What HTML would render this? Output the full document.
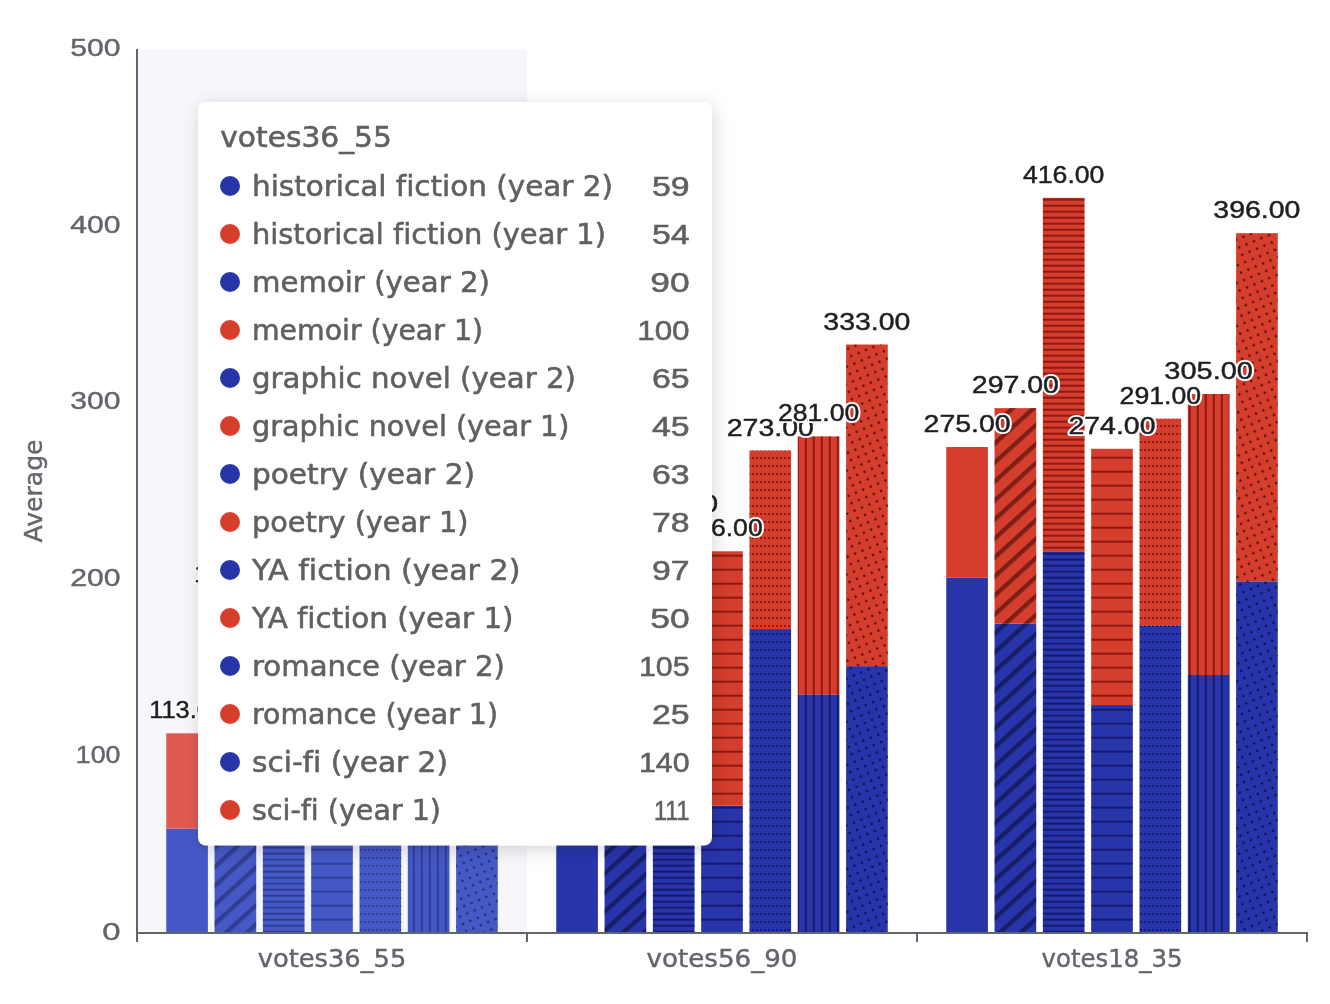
<!DOCTYPE html>
<html lang="en"><head><meta charset="utf-8"><title>Average votes by genre</title>
<style>html,body{margin:0;padding:0;background:#fff}body{width:1330px;height:1004px;overflow:hidden}svg{display:block}text{font-family:"DejaVu Sans","Liberation Sans",sans-serif;font-variant-ligatures:none;font-feature-settings:"liga" 0,"clig" 0,"rlig" 0,"calt" 0}.n,.n text{font-family:"Liberation Sans","DejaVu Sans",sans-serif}</style>
</head><body>
<svg width="1330" height="1004" viewBox="0 0 1330 1004">
<defs>
<pattern id="p1r" patternUnits="userSpaceOnUse" x="10.74" width="14.059" height="14" patternTransform="rotate(47.76)"><rect x="0" y="0" width="4.30" height="14" fill="rgba(40,0,0,0.5)"/></pattern>
<pattern id="p2r" patternUnits="userSpaceOnUse" width="6" height="6"><rect x="0" y="0.7" width="6" height="2" fill="rgba(100,0,0,0.62)"/></pattern>
<pattern id="p3r" patternUnits="userSpaceOnUse" width="14" height="14"><rect x="0" y="8.7" width="14" height="2" fill="rgba(100,0,0,0.62)"/></pattern>
<pattern id="p4r" patternUnits="userSpaceOnUse" width="4" height="8"><rect x="0" y="1" width="2" height="2" fill="rgba(100,0,0,0.62)"/></pattern>
<pattern id="p5r" patternUnits="userSpaceOnUse" width="8" height="8"><rect x="4.8" y="0" width="2" height="8" fill="rgba(100,0,0,0.62)"/></pattern>
<pattern id="p6r" patternUnits="userSpaceOnUse" width="8" height="8" patternTransform="rotate(-22.5)"><circle cx="2.19" cy="6.78" r="1.2" fill="rgba(45,0,0,0.8)"/><circle cx="2.19" cy="-1.22" r="1.2" fill="rgba(45,0,0,0.8)"/></pattern>
<pattern id="p1b" patternUnits="userSpaceOnUse" x="10.74" width="14.059" height="14" patternTransform="rotate(47.76)"><rect x="0" y="0" width="4.30" height="14" fill="rgba(0,0,10,0.43)"/></pattern>
<pattern id="p2b" patternUnits="userSpaceOnUse" width="6" height="6"><rect x="0" y="0.7" width="6" height="2" fill="rgba(0,0,55,0.5)"/></pattern>
<pattern id="p3b" patternUnits="userSpaceOnUse" width="14" height="14"><rect x="0" y="8.7" width="14" height="2" fill="rgba(0,0,55,0.5)"/></pattern>
<pattern id="p4b" patternUnits="userSpaceOnUse" width="4" height="8"><rect x="0" y="1" width="2" height="2" fill="rgba(0,0,55,0.5)"/></pattern>
<pattern id="p5b" patternUnits="userSpaceOnUse" width="8" height="8"><rect x="4.8" y="0" width="2" height="8" fill="rgba(0,0,55,0.5)"/></pattern>
<pattern id="p6b" patternUnits="userSpaceOnUse" width="8" height="8" patternTransform="rotate(-22.5)"><circle cx="2.19" cy="6.78" r="1.2" fill="rgba(0,0,30,0.72)"/><circle cx="2.19" cy="-1.22" r="1.2" fill="rgba(0,0,30,0.72)"/></pattern>
<pattern id="p1rh" patternUnits="userSpaceOnUse" x="10.74" width="14.059" height="14" patternTransform="rotate(47.76)"><rect x="0" y="0" width="4.30" height="14" fill="rgba(40,0,0,0.35)"/></pattern>
<pattern id="p2rh" patternUnits="userSpaceOnUse" width="6" height="6"><rect x="0" y="0.7" width="6" height="2" fill="rgba(100,0,0,0.42)"/></pattern>
<pattern id="p3rh" patternUnits="userSpaceOnUse" width="14" height="14"><rect x="0" y="8.7" width="14" height="2" fill="rgba(100,0,0,0.42)"/></pattern>
<pattern id="p4rh" patternUnits="userSpaceOnUse" width="4" height="8"><rect x="0" y="1" width="2" height="2" fill="rgba(100,0,0,0.42)"/></pattern>
<pattern id="p5rh" patternUnits="userSpaceOnUse" width="8" height="8"><rect x="4.8" y="0" width="2" height="8" fill="rgba(100,0,0,0.42)"/></pattern>
<pattern id="p6rh" patternUnits="userSpaceOnUse" width="8" height="8" patternTransform="rotate(-22.5)"><circle cx="2.19" cy="6.78" r="1.2" fill="rgba(45,0,0,0.6)"/><circle cx="2.19" cy="-1.22" r="1.2" fill="rgba(45,0,0,0.6)"/></pattern>
<pattern id="p1bh" patternUnits="userSpaceOnUse" x="10.74" width="14.059" height="14" patternTransform="rotate(47.76)"><rect x="0" y="0" width="4.30" height="14" fill="rgba(0,0,20,0.3)"/></pattern>
<pattern id="p2bh" patternUnits="userSpaceOnUse" width="6" height="6"><rect x="0" y="0.7" width="6" height="2" fill="rgba(5,15,70,0.36)"/></pattern>
<pattern id="p3bh" patternUnits="userSpaceOnUse" width="14" height="14"><rect x="0" y="8.7" width="14" height="2" fill="rgba(5,15,70,0.36)"/></pattern>
<pattern id="p4bh" patternUnits="userSpaceOnUse" width="4" height="8"><rect x="0" y="1" width="2" height="2" fill="rgba(5,15,70,0.36)"/></pattern>
<pattern id="p5bh" patternUnits="userSpaceOnUse" width="8" height="8"><rect x="4.8" y="0" width="2" height="8" fill="rgba(5,15,70,0.36)"/></pattern>
<pattern id="p6bh" patternUnits="userSpaceOnUse" width="8" height="8" patternTransform="rotate(-22.5)"><circle cx="2.19" cy="6.78" r="1.2" fill="rgba(0,0,30,0.55)"/><circle cx="2.19" cy="-1.22" r="1.2" fill="rgba(0,0,30,0.55)"/></pattern>
<filter id="sh" x="-20%" y="-20%" width="140%" height="140%"><feDropShadow dx="2" dy="4" stdDeviation="9" flood-color="#000" flood-opacity="0.16"/></filter>
</defs>
<rect width="1330" height="1004" fill="#fff"/>
<rect x="137.00" y="49.40" width="390.00" height="883.60" fill="rgb(210,219,238)" fill-opacity="0.22"/>
<rect x="166.25" y="828.74" width="41.65" height="104.26" fill="#4658C6"/>
<rect x="166.25" y="733.31" width="41.65" height="95.43" fill="#E05A52"/>
<rect x="214.56" y="773.95" width="41.65" height="159.05" fill="#4658C6"/>
<rect x="214.56" y="597.23" width="41.65" height="176.72" fill="#E05A52"/>
<rect x="214.56" y="773.95" width="41.65" height="159.05" fill="url(#p1bh)"/>
<rect x="214.56" y="597.23" width="41.65" height="176.72" fill="url(#p1rh)"/>
<rect x="262.87" y="818.13" width="41.65" height="114.87" fill="#4658C6"/>
<rect x="262.87" y="738.61" width="41.65" height="79.52" fill="#E05A52"/>
<rect x="262.87" y="818.13" width="41.65" height="114.87" fill="url(#p2bh)"/>
<rect x="262.87" y="738.61" width="41.65" height="79.52" fill="url(#p2rh)"/>
<rect x="311.18" y="821.67" width="41.65" height="111.33" fill="#4658C6"/>
<rect x="311.18" y="683.82" width="41.65" height="137.84" fill="#E05A52"/>
<rect x="311.18" y="821.67" width="41.65" height="111.33" fill="url(#p3bh)"/>
<rect x="311.18" y="683.82" width="41.65" height="137.84" fill="url(#p3rh)"/>
<rect x="359.49" y="761.58" width="41.65" height="171.42" fill="#4658C6"/>
<rect x="359.49" y="673.22" width="41.65" height="88.36" fill="#E05A52"/>
<rect x="359.49" y="761.58" width="41.65" height="171.42" fill="url(#p4bh)"/>
<rect x="359.49" y="673.22" width="41.65" height="88.36" fill="url(#p4rh)"/>
<rect x="407.80" y="747.44" width="41.65" height="185.56" fill="#4658C6"/>
<rect x="407.80" y="703.26" width="41.65" height="44.18" fill="#E05A52"/>
<rect x="407.80" y="747.44" width="41.65" height="185.56" fill="url(#p5bh)"/>
<rect x="407.80" y="703.26" width="41.65" height="44.18" fill="url(#p5rh)"/>
<rect x="456.11" y="685.59" width="41.65" height="247.41" fill="#4658C6"/>
<rect x="456.11" y="489.43" width="41.65" height="196.16" fill="#E05A52"/>
<rect x="456.11" y="685.59" width="41.65" height="247.41" fill="url(#p6bh)"/>
<rect x="456.11" y="489.43" width="41.65" height="196.16" fill="url(#p6rh)"/>
<rect x="556.25" y="667.92" width="41.65" height="265.08" fill="#2834AA"/>
<rect x="556.25" y="508.87" width="41.65" height="159.05" fill="#D53E2C"/>
<rect x="604.56" y="720.94" width="41.65" height="212.06" fill="#2834AA"/>
<rect x="604.56" y="579.56" width="41.65" height="141.38" fill="#D53E2C"/>
<rect x="604.56" y="720.94" width="41.65" height="212.06" fill="url(#p1b)"/>
<rect x="604.56" y="579.56" width="41.65" height="141.38" fill="url(#p1r)"/>
<rect x="652.87" y="703.26" width="41.65" height="229.74" fill="#2834AA"/>
<rect x="652.87" y="526.54" width="41.65" height="176.72" fill="#D53E2C"/>
<rect x="652.87" y="703.26" width="41.65" height="229.74" fill="url(#p2b)"/>
<rect x="652.87" y="526.54" width="41.65" height="176.72" fill="url(#p2r)"/>
<rect x="701.17" y="805.76" width="41.65" height="127.24" fill="#2834AA"/>
<rect x="701.17" y="551.28" width="41.65" height="254.48" fill="#D53E2C"/>
<rect x="701.17" y="805.76" width="41.65" height="127.24" fill="url(#p3b)"/>
<rect x="701.17" y="551.28" width="41.65" height="254.48" fill="url(#p3r)"/>
<rect x="749.49" y="629.04" width="41.65" height="303.96" fill="#2834AA"/>
<rect x="749.49" y="450.55" width="41.65" height="178.49" fill="#D53E2C"/>
<rect x="749.49" y="629.04" width="41.65" height="303.96" fill="url(#p4b)"/>
<rect x="749.49" y="450.55" width="41.65" height="178.49" fill="url(#p4r)"/>
<rect x="797.80" y="694.43" width="41.65" height="238.57" fill="#2834AA"/>
<rect x="797.80" y="436.42" width="41.65" height="258.01" fill="#D53E2C"/>
<rect x="797.80" y="694.43" width="41.65" height="238.57" fill="url(#p5b)"/>
<rect x="797.80" y="436.42" width="41.65" height="258.01" fill="url(#p5r)"/>
<rect x="846.11" y="666.15" width="41.65" height="266.85" fill="#2834AA"/>
<rect x="846.11" y="344.52" width="41.65" height="321.63" fill="#D53E2C"/>
<rect x="846.11" y="666.15" width="41.65" height="266.85" fill="url(#p6b)"/>
<rect x="846.11" y="344.52" width="41.65" height="321.63" fill="url(#p6r)"/>
<rect x="946.25" y="577.79" width="41.65" height="355.21" fill="#2834AA"/>
<rect x="946.25" y="447.02" width="41.65" height="130.77" fill="#D53E2C"/>
<rect x="994.56" y="623.74" width="41.65" height="309.26" fill="#2834AA"/>
<rect x="994.56" y="408.14" width="41.65" height="215.60" fill="#D53E2C"/>
<rect x="994.56" y="623.74" width="41.65" height="309.26" fill="url(#p1b)"/>
<rect x="994.56" y="408.14" width="41.65" height="215.60" fill="url(#p1r)"/>
<rect x="1042.87" y="551.28" width="41.65" height="381.72" fill="#2834AA"/>
<rect x="1042.87" y="197.84" width="41.65" height="353.44" fill="#D53E2C"/>
<rect x="1042.87" y="551.28" width="41.65" height="381.72" fill="url(#p2b)"/>
<rect x="1042.87" y="197.84" width="41.65" height="353.44" fill="url(#p2r)"/>
<rect x="1091.17" y="705.03" width="41.65" height="227.97" fill="#2834AA"/>
<rect x="1091.17" y="448.79" width="41.65" height="256.24" fill="#D53E2C"/>
<rect x="1091.17" y="705.03" width="41.65" height="227.97" fill="url(#p3b)"/>
<rect x="1091.17" y="448.79" width="41.65" height="256.24" fill="url(#p3r)"/>
<rect x="1139.49" y="625.51" width="41.65" height="307.49" fill="#2834AA"/>
<rect x="1139.49" y="418.74" width="41.65" height="206.76" fill="#D53E2C"/>
<rect x="1139.49" y="625.51" width="41.65" height="307.49" fill="url(#p4b)"/>
<rect x="1139.49" y="418.74" width="41.65" height="206.76" fill="url(#p4r)"/>
<rect x="1187.80" y="674.99" width="41.65" height="258.01" fill="#2834AA"/>
<rect x="1187.80" y="394.00" width="41.65" height="280.98" fill="#D53E2C"/>
<rect x="1187.80" y="674.99" width="41.65" height="258.01" fill="url(#p5b)"/>
<rect x="1187.80" y="394.00" width="41.65" height="280.98" fill="url(#p5r)"/>
<rect x="1236.11" y="581.33" width="41.65" height="351.67" fill="#2834AA"/>
<rect x="1236.11" y="233.19" width="41.65" height="348.14" fill="#D53E2C"/>
<rect x="1236.11" y="581.33" width="41.65" height="351.67" fill="url(#p6b)"/>
<rect x="1236.11" y="233.19" width="41.65" height="348.14" fill="url(#p6r)"/>
<g stroke="#62656c" stroke-width="2" fill="none">
<path d="M137.0 48.9V934.0"/>
<path d="M136.0 933.0H1308.0"/>
<path d="M137.0 933.0V942.0"/>
<path d="M527.0 933.0V942.0"/>
<path d="M917.0 933.0V942.0"/>
<path d="M1307.0 933.0V942.0"/>
</g>
<g fill="#62656b" stroke="#62656b" stroke-width="0.4" font-size="24" text-anchor="end" class="n">
<text x="120.5" y="939.6" textLength="18.3" lengthAdjust="spacingAndGlyphs">0</text>
<text x="120.5" y="762.9" textLength="44.7" lengthAdjust="spacingAndGlyphs">100</text>
<text x="120.5" y="586.2" textLength="50.3" lengthAdjust="spacingAndGlyphs">200</text>
<text x="120.5" y="409.4" textLength="50.3" lengthAdjust="spacingAndGlyphs">300</text>
<text x="120.5" y="232.7" textLength="50.3" lengthAdjust="spacingAndGlyphs">400</text>
<text x="120.5" y="56.0" textLength="50.3" lengthAdjust="spacingAndGlyphs">500</text>
</g>
<text transform="translate(42.2 491) rotate(-90)" fill="#62656b" stroke="#62656b" stroke-width="0.4" font-size="24" text-anchor="middle" textLength="103" lengthAdjust="spacingAndGlyphs">Average</text>
<g fill="#62656b" stroke="#62656b" stroke-width="0.4" font-size="24" text-anchor="middle">
<text x="332.0" y="967" textLength="148.5" lengthAdjust="spacingAndGlyphs">votes36_55</text>
<text x="722.0" y="967" textLength="151.0" lengthAdjust="spacingAndGlyphs">votes56_90</text>
<text x="1112.0" y="967" textLength="141.0" lengthAdjust="spacingAndGlyphs">votes18_35</text>
</g>
<g class="n" fill="#1d1f22" font-size="24" text-anchor="middle">
<text x="187.1" y="718.3" textLength="75.8" lengthAdjust="spacingAndGlyphs" stroke="#fff" stroke-width="4" stroke-linejoin="round">113.00</text>
<text x="187.1" y="718.3" textLength="75.8" lengthAdjust="spacingAndGlyphs" stroke="#1d1f22" stroke-width="0.45">113.00</text>
<text x="235.4" y="582.2" textLength="83.0" lengthAdjust="spacingAndGlyphs" stroke="#fff" stroke-width="4" stroke-linejoin="round">190.00</text>
<text x="235.4" y="582.2" textLength="83.0" lengthAdjust="spacingAndGlyphs" stroke="#1d1f22" stroke-width="0.45">190.00</text>
<text x="283.7" y="723.6" textLength="77.4" lengthAdjust="spacingAndGlyphs" stroke="#fff" stroke-width="4" stroke-linejoin="round">110.00</text>
<text x="283.7" y="723.6" textLength="77.4" lengthAdjust="spacingAndGlyphs" stroke="#1d1f22" stroke-width="0.45">110.00</text>
<text x="332.0" y="668.8" textLength="75.8" lengthAdjust="spacingAndGlyphs" stroke="#fff" stroke-width="4" stroke-linejoin="round">141.00</text>
<text x="332.0" y="668.8" textLength="75.8" lengthAdjust="spacingAndGlyphs" stroke="#1d1f22" stroke-width="0.45">141.00</text>
<text x="380.3" y="658.2" textLength="81.4" lengthAdjust="spacingAndGlyphs" stroke="#fff" stroke-width="4" stroke-linejoin="round">147.00</text>
<text x="380.3" y="658.2" textLength="81.4" lengthAdjust="spacingAndGlyphs" stroke="#1d1f22" stroke-width="0.45">147.00</text>
<text x="428.6" y="688.3" textLength="83.0" lengthAdjust="spacingAndGlyphs" stroke="#fff" stroke-width="4" stroke-linejoin="round">130.00</text>
<text x="428.6" y="688.3" textLength="83.0" lengthAdjust="spacingAndGlyphs" stroke="#1d1f22" stroke-width="0.45">130.00</text>
<text x="476.9" y="474.4" textLength="81.4" lengthAdjust="spacingAndGlyphs" stroke="#fff" stroke-width="4" stroke-linejoin="round">251.00</text>
<text x="476.9" y="474.4" textLength="81.4" lengthAdjust="spacingAndGlyphs" stroke="#1d1f22" stroke-width="0.45">251.00</text>
<text x="577.1" y="493.9" textLength="88.6" lengthAdjust="spacingAndGlyphs" stroke="#fff" stroke-width="4" stroke-linejoin="round">240.00</text>
<text x="577.1" y="493.9" textLength="88.6" lengthAdjust="spacingAndGlyphs" stroke="#1d1f22" stroke-width="0.45">240.00</text>
<text x="625.4" y="564.6" textLength="90.2" lengthAdjust="spacingAndGlyphs" stroke="#fff" stroke-width="4" stroke-linejoin="round">200.00</text>
<text x="625.4" y="564.6" textLength="90.2" lengthAdjust="spacingAndGlyphs" stroke="#1d1f22" stroke-width="0.45">200.00</text>
<text x="673.7" y="511.5" textLength="88.6" lengthAdjust="spacingAndGlyphs" stroke="#fff" stroke-width="4" stroke-linejoin="round">230.00</text>
<text x="673.7" y="511.5" textLength="88.6" lengthAdjust="spacingAndGlyphs" stroke="#1d1f22" stroke-width="0.45">230.00</text>
<text x="722.0" y="536.3" textLength="81.4" lengthAdjust="spacingAndGlyphs" stroke="#fff" stroke-width="4" stroke-linejoin="round">216.00</text>
<text x="722.0" y="536.3" textLength="81.4" lengthAdjust="spacingAndGlyphs" stroke="#1d1f22" stroke-width="0.45">216.00</text>
<text x="770.3" y="435.6" textLength="87.1" lengthAdjust="spacingAndGlyphs" stroke="#fff" stroke-width="4" stroke-linejoin="round">273.00</text>
<text x="770.3" y="435.6" textLength="87.1" lengthAdjust="spacingAndGlyphs" stroke="#1d1f22" stroke-width="0.45">273.00</text>
<text x="818.6" y="421.4" textLength="81.4" lengthAdjust="spacingAndGlyphs" stroke="#fff" stroke-width="4" stroke-linejoin="round">281.00</text>
<text x="818.6" y="421.4" textLength="81.4" lengthAdjust="spacingAndGlyphs" stroke="#1d1f22" stroke-width="0.45">281.00</text>
<text x="866.9" y="329.5" textLength="87.1" lengthAdjust="spacingAndGlyphs" stroke="#fff" stroke-width="4" stroke-linejoin="round">333.00</text>
<text x="866.9" y="329.5" textLength="87.1" lengthAdjust="spacingAndGlyphs" stroke="#1d1f22" stroke-width="0.45">333.00</text>
<text x="967.1" y="432.0" textLength="87.1" lengthAdjust="spacingAndGlyphs" stroke="#fff" stroke-width="4" stroke-linejoin="round">275.00</text>
<text x="967.1" y="432.0" textLength="87.1" lengthAdjust="spacingAndGlyphs" stroke="#1d1f22" stroke-width="0.45">275.00</text>
<text x="1015.4" y="393.1" textLength="87.1" lengthAdjust="spacingAndGlyphs" stroke="#fff" stroke-width="4" stroke-linejoin="round">297.00</text>
<text x="1015.4" y="393.1" textLength="87.1" lengthAdjust="spacingAndGlyphs" stroke="#1d1f22" stroke-width="0.45">297.00</text>
<text x="1063.7" y="182.8" textLength="81.4" lengthAdjust="spacingAndGlyphs" stroke="#fff" stroke-width="4" stroke-linejoin="round">416.00</text>
<text x="1063.7" y="182.8" textLength="81.4" lengthAdjust="spacingAndGlyphs" stroke="#1d1f22" stroke-width="0.45">416.00</text>
<text x="1112.0" y="433.8" textLength="87.1" lengthAdjust="spacingAndGlyphs" stroke="#fff" stroke-width="4" stroke-linejoin="round">274.00</text>
<text x="1112.0" y="433.8" textLength="87.1" lengthAdjust="spacingAndGlyphs" stroke="#1d1f22" stroke-width="0.45">274.00</text>
<text x="1160.3" y="403.7" textLength="81.4" lengthAdjust="spacingAndGlyphs" stroke="#fff" stroke-width="4" stroke-linejoin="round">291.00</text>
<text x="1160.3" y="403.7" textLength="81.4" lengthAdjust="spacingAndGlyphs" stroke="#1d1f22" stroke-width="0.45">291.00</text>
<text x="1208.6" y="379.0" textLength="88.6" lengthAdjust="spacingAndGlyphs" stroke="#fff" stroke-width="4" stroke-linejoin="round">305.00</text>
<text x="1208.6" y="379.0" textLength="88.6" lengthAdjust="spacingAndGlyphs" stroke="#1d1f22" stroke-width="0.45">305.00</text>
<text x="1256.9" y="218.2" textLength="87.1" lengthAdjust="spacingAndGlyphs" stroke="#fff" stroke-width="4" stroke-linejoin="round">396.00</text>
<text x="1256.9" y="218.2" textLength="87.1" lengthAdjust="spacingAndGlyphs" stroke="#1d1f22" stroke-width="0.45">396.00</text>
</g>
<rect x="198" y="102" width="514" height="743.5" rx="8" ry="8" fill="#fff" filter="url(#sh)"/>
<g fill="#606060" stroke="#606060" stroke-width="0.55" font-size="28">
<text x="220.3" y="147.4" textLength="171.5" lengthAdjust="spacingAndGlyphs">votes36_55</text>
<circle cx="230" cy="186" r="10" fill="#2834AA" stroke="none"/>
<text x="252" y="195.8" textLength="361" lengthAdjust="spacingAndGlyphs">historical fiction (year 2)</text>
<text class="n" x="689.6" y="195.8" text-anchor="end" textLength="37.6" lengthAdjust="spacingAndGlyphs">59</text>
<circle cx="230" cy="234" r="10" fill="#D53E2C" stroke="none"/>
<text x="252" y="243.8" textLength="354" lengthAdjust="spacingAndGlyphs">historical fiction (year 1)</text>
<text class="n" x="689.6" y="243.8" text-anchor="end" textLength="37.6" lengthAdjust="spacingAndGlyphs">54</text>
<circle cx="230" cy="282" r="10" fill="#2834AA" stroke="none"/>
<text x="252" y="291.8" textLength="238" lengthAdjust="spacingAndGlyphs">memoir (year 2)</text>
<text class="n" x="689.6" y="291.8" text-anchor="end" textLength="39.4" lengthAdjust="spacingAndGlyphs">90</text>
<circle cx="230" cy="330" r="10" fill="#D53E2C" stroke="none"/>
<text x="252" y="339.8" textLength="231" lengthAdjust="spacingAndGlyphs">memoir (year 1)</text>
<text class="n" x="689.6" y="339.8" text-anchor="end" textLength="52.4" lengthAdjust="spacingAndGlyphs">100</text>
<circle cx="230" cy="378" r="10" fill="#2834AA" stroke="none"/>
<text x="252" y="387.8" textLength="324" lengthAdjust="spacingAndGlyphs">graphic novel (year 2)</text>
<text class="n" x="689.6" y="387.8" text-anchor="end" textLength="37.6" lengthAdjust="spacingAndGlyphs">65</text>
<circle cx="230" cy="426" r="10" fill="#D53E2C" stroke="none"/>
<text x="252" y="435.8" textLength="317.5" lengthAdjust="spacingAndGlyphs">graphic novel (year 1)</text>
<text class="n" x="689.6" y="435.8" text-anchor="end" textLength="37.6" lengthAdjust="spacingAndGlyphs">45</text>
<circle cx="230" cy="474" r="10" fill="#2834AA" stroke="none"/>
<text x="252" y="483.8" textLength="223" lengthAdjust="spacingAndGlyphs">poetry (year 2)</text>
<text class="n" x="689.6" y="483.8" text-anchor="end" textLength="37.6" lengthAdjust="spacingAndGlyphs">63</text>
<circle cx="230" cy="522" r="10" fill="#D53E2C" stroke="none"/>
<text x="252" y="531.8" textLength="216.5" lengthAdjust="spacingAndGlyphs">poetry (year 1)</text>
<text class="n" x="689.6" y="531.8" text-anchor="end" textLength="37.6" lengthAdjust="spacingAndGlyphs">78</text>
<circle cx="230" cy="570" r="10" fill="#2834AA" stroke="none"/>
<text x="252" y="579.8" textLength="268.5" lengthAdjust="spacingAndGlyphs">YA fiction (year 2)</text>
<text class="n" x="689.6" y="579.8" text-anchor="end" textLength="37.6" lengthAdjust="spacingAndGlyphs">97</text>
<circle cx="230" cy="618" r="10" fill="#D53E2C" stroke="none"/>
<text x="252" y="627.8" textLength="261.5" lengthAdjust="spacingAndGlyphs">YA fiction (year 1)</text>
<text class="n" x="689.6" y="627.8" text-anchor="end" textLength="39.4" lengthAdjust="spacingAndGlyphs">50</text>
<circle cx="230" cy="666" r="10" fill="#2834AA" stroke="none"/>
<text x="252" y="675.8" textLength="253" lengthAdjust="spacingAndGlyphs">romance (year 2)</text>
<text class="n" x="689.6" y="675.8" text-anchor="end" textLength="50.6" lengthAdjust="spacingAndGlyphs">105</text>
<circle cx="230" cy="714" r="10" fill="#D53E2C" stroke="none"/>
<text x="252" y="723.8" textLength="246" lengthAdjust="spacingAndGlyphs">romance (year 1)</text>
<text class="n" x="689.6" y="723.8" text-anchor="end" textLength="37.6" lengthAdjust="spacingAndGlyphs">25</text>
<circle cx="230" cy="762" r="10" fill="#2834AA" stroke="none"/>
<text x="252" y="771.8" textLength="196" lengthAdjust="spacingAndGlyphs">sci-fi (year 2)</text>
<text class="n" x="689.6" y="771.8" text-anchor="end" textLength="50.6" lengthAdjust="spacingAndGlyphs">140</text>
<circle cx="230" cy="810" r="10" fill="#D53E2C" stroke="none"/>
<text x="252" y="819.8" textLength="189" lengthAdjust="spacingAndGlyphs">sci-fi (year 1)</text>
<text class="n" x="689.6" y="819.8" text-anchor="end" textLength="35.6" lengthAdjust="spacingAndGlyphs">111</text>
</g>
</svg>
</body></html>
